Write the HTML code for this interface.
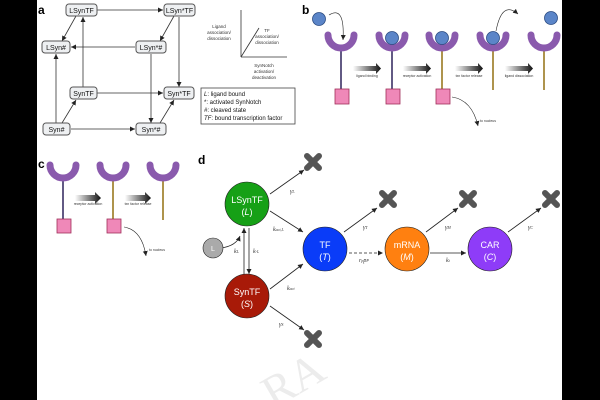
<!DOCTYPE html>
<html><head><style>
body{margin:0;width:600px;height:400px;overflow:hidden;background:#000}
svg{display:block;font-family:"Liberation Sans",sans-serif}
</style></head><body>
<svg width="600" height="400" viewBox="0 0 600 400">
<defs>
<marker id="ar" markerWidth="6" markerHeight="6" refX="5" refY="3" orient="auto" markerUnits="userSpaceOnUse"><path d="M0,0.5 L5,3 L0,5.5z" fill="#222"/></marker>
<linearGradient id="bg" x1="0" x2="1"><stop offset="0" stop-color="#fff"/><stop offset="1" stop-color="#111"/></linearGradient>
<g id="xm"><path d="M-6,-6 L6,6 M6,-6 L-6,6" stroke="#555" stroke-width="6" stroke-linecap="round"/></g>
<g id="cup"><path d="M-13,-3 A13,13 0 0 0 13,-3" fill="none" stroke="#8a5aad" stroke-width="7" stroke-linecap="round"/></g>
</defs>
<rect x="37" y="0" width="525" height="400" fill="#fff"/>
<!-- watermark -->
<text x="262" y="392" font-size="46" fill="#ececec" font-family="Liberation Serif" transform="rotate(-30 300 380)">RA</text>

<!-- Panel a -->
<text x="38" y="14" font-size="12" font-weight="bold">a</text>
<g stroke="#333" stroke-width="0.8" fill="none" marker-end="url(#ar)">
<line x1="97" y1="10" x2="163" y2="10"/>
<line x1="76" y1="16" x2="62" y2="41"/>
<line x1="83" y1="87" x2="83" y2="17"/>
<line x1="174" y1="16" x2="160" y2="41"/>
<line x1="179" y1="17" x2="179" y2="87"/>
<line x1="135" y1="47" x2="71" y2="47"/>
<line x1="56" y1="123" x2="56" y2="54"/>
<line x1="151" y1="54" x2="151" y2="123"/>
<line x1="97" y1="93" x2="163" y2="93"/>
<line x1="62" y1="123" x2="76" y2="100"/>
<line x1="160" y1="123" x2="174" y2="100"/>
<line x1="71" y1="129" x2="135" y2="129"/>
</g>
<g fill="#eef0f2" stroke="#555" stroke-width="1">
<rect x="66" y="4" width="31" height="12" rx="3"/><rect x="164" y="4" width="31" height="12" rx="3"/>
<rect x="42" y="41" width="28" height="12" rx="3"/><rect x="136" y="41" width="30" height="12" rx="3"/>
<rect x="70" y="87" width="27" height="12" rx="3"/><rect x="164" y="87" width="30" height="12" rx="3"/>
<rect x="43" y="123" width="27" height="12" rx="3"/><rect x="136" y="123" width="30" height="12" rx="3"/>
</g>
<g font-size="7" text-anchor="middle" fill="#111">
<text x="81.5" y="13">LSynTF</text><text x="179.5" y="13">LSyn*TF</text>
<text x="56" y="50">LSyn#</text><text x="151" y="50">LSyn*#</text>
<text x="83.5" y="96">SynTF</text><text x="179" y="96">Syn*TF</text>
<text x="56.5" y="132">Syn#</text><text x="151" y="132">Syn*#</text>
</g>
<g stroke="#333" stroke-width="0.8"><line x1="241" y1="10" x2="241" y2="57"/><line x1="241" y1="57" x2="287" y2="57"/><line x1="241" y1="57" x2="259" y2="28"/></g>
<g font-size="4.5" text-anchor="middle" fill="#333">
<text x="219" y="28">Ligand</text><text x="219" y="34">association/</text><text x="219" y="40">dissociation</text>
<text x="267" y="32">TF</text><text x="267" y="38">association/</text><text x="267" y="44">dissociation</text>
<text x="264" y="67">SynNotch</text><text x="264" y="73">activation/</text><text x="264" y="79">deactivation</text>
</g>
<rect x="201" y="88" width="94" height="36" fill="#fff" stroke="#444" stroke-width="0.8"/>
<g font-size="6" fill="#111"><text x="204" y="96"><tspan font-style="italic">L</tspan>: ligand bound</text><text x="204" y="104">*: activated SynNotch</text><text x="204" y="112"><tspan font-style="italic">#</tspan>: cleaved state</text><text x="204" y="120"><tspan font-style="italic">TF</tspan>: bound transcription factor</text></g>

<!-- Panel b -->
<text x="302" y="14" font-size="12" font-weight="bold">b</text>
<g>
<line x1="341" y1="50" x2="341" y2="90" stroke="#3a3066" stroke-width="1.6"/><use href="#cup" x="341" y="38"/><rect x="335" y="89" width="14" height="15" fill="#ef88b8" stroke="#a0305a" stroke-width="0.8"/>
<line x1="392" y1="50" x2="392" y2="90" stroke="#3a3066" stroke-width="1.6"/><use href="#cup" x="392" y="38"/><rect x="386" y="89" width="14" height="15" fill="#ef88b8" stroke="#a0305a" stroke-width="0.8"/>
<line x1="442" y1="50" x2="442" y2="90" stroke="#9a7a20" stroke-width="1.6"/><use href="#cup" x="442" y="38"/><rect x="436" y="89" width="14" height="15" fill="#ef88b8" stroke="#a0305a" stroke-width="0.8"/>
<line x1="493" y1="50" x2="493" y2="90" stroke="#9a7a20" stroke-width="1.6"/><use href="#cup" x="493" y="38"/>
<line x1="544" y1="50" x2="544" y2="90" stroke="#9a7a20" stroke-width="1.6"/><use href="#cup" x="544" y="38"/>
<g fill="#5b85c8" stroke="#2a4a80" stroke-width="0.8"><circle cx="319" cy="19" r="6.5"/><circle cx="392" cy="38" r="6.5"/><circle cx="442" cy="38" r="6.5"/><circle cx="493" cy="38" r="6.5"/><circle cx="551" cy="18" r="6.5"/></g>
<g fill="none" stroke="#222" stroke-width="0.6" marker-end="url(#ar)"><path d="M329,15 Q345,5 343,40"/><path d="M496,31 Q502,0 518,14"/><path d="M452,97 Q472,100 478,126"/></g>
<g fill="url(#bg)"><path d="M353,66 H376 V63 L381,68.5 L376,74 V71 H353z"/><path d="M403,66 H426 V63 L431,68.5 L426,74 V71 H403z"/><path d="M455,66 H478 V63 L483,68.5 L478,74 V71 H455z"/><path d="M505,66 H528 V63 L533,68.5 L528,74 V71 H505z"/></g>
<g font-size="3.5" text-anchor="middle" fill="#333"><text x="367" y="77">ligand binding</text><text x="417" y="77">receptor activation</text><text x="469" y="77">txn factor release</text><text x="519" y="77">ligand dissociation</text><text x="488" y="122">to nucleus</text></g>
</g>

<!-- Panel c -->
<text x="38" y="168" font-size="12" font-weight="bold">c</text>
<line x1="63" y1="180" x2="63" y2="220" stroke="#3a3066" stroke-width="1.6"/><use href="#cup" x="63" y="168"/><rect x="57" y="219" width="14" height="14" fill="#ef88b8" stroke="#a0305a" stroke-width="0.8"/>
<line x1="113" y1="180" x2="113" y2="220" stroke="#9a7a20" stroke-width="1.6"/><use href="#cup" x="113" y="168"/><rect x="107" y="219" width="14" height="14" fill="#ef88b8" stroke="#a0305a" stroke-width="0.8"/>
<line x1="163" y1="180" x2="163" y2="220" stroke="#9a7a20" stroke-width="1.6"/><use href="#cup" x="163" y="168"/>
<g fill="url(#bg)"><path d="M75,195 H95 V192 L101,198 L95,204 V201 H75z"/><path d="M125,195 H145 V192 L151,198 L145,204 V201 H125z"/></g>
<g font-size="3.5" text-anchor="middle" fill="#333"><text x="88" y="205">receptor activation</text><text x="138" y="205">txn factor release</text><text x="157" y="251">to nucleus</text></g>
<path d="M124,227 Q142,230 146,256" fill="none" stroke="#222" stroke-width="0.6" marker-end="url(#ar)"/>

<!-- Panel d -->
<text x="198" y="164" font-size="12" font-weight="bold">d</text>
<g stroke="#222" stroke-width="0.8" fill="none" marker-end="url(#ar)">
<line x1="270" y1="194" x2="304" y2="170"/>
<line x1="270" y1="211" x2="303" y2="232"/>
<line x1="270" y1="289" x2="303" y2="264"/>
<line x1="270" y1="306" x2="304" y2="330"/>
<line x1="344" y1="232" x2="377" y2="208"/>
<line x1="426" y1="232" x2="458" y2="208"/>
<line x1="508" y1="232" x2="541" y2="208"/>
<line x1="430" y1="253" x2="466" y2="253"/>
<line x1="244" y1="274" x2="244" y2="228"/>
<line x1="249" y1="228" x2="249" y2="274"/>
<path d="M221,248 Q236,246 240,236" />
<line x1="349" y1="253" x2="383" y2="253" stroke-dasharray="3,2"/>
</g>
<g><use href="#xm" x="313" y="162"/><use href="#xm" x="388" y="199"/><use href="#xm" x="468" y="199"/><use href="#xm" x="551" y="199"/><use href="#xm" x="313" y="339"/></g>
<g stroke="#222" stroke-width="0.6">
<circle cx="247" cy="204" r="22" fill="#16a016"/>
<circle cx="247" cy="296" r="22" fill="#a81a08"/>
<circle cx="213" cy="248" r="10" fill="#aaa"/>
<circle cx="325" cy="249" r="22" fill="#0a3cf8"/>
<circle cx="407" cy="249" r="22" fill="#ff8010"/>
<circle cx="490" cy="249" r="22" fill="#8e3cf8"/>
</g>
<g fill="#fff" font-size="9" text-anchor="middle">
<text x="247" y="203">LSynTF</text><text x="247" y="215">(<tspan font-style="italic">L</tspan>)</text>
<text x="247" y="295">SynTF</text><text x="247" y="307">(<tspan font-style="italic">S</tspan>)</text>
<text x="213" y="251" font-size="7">L</text>
<text x="325" y="248">TF</text><text x="325" y="260">(<tspan font-style="italic">T</tspan>)</text>
<text x="407" y="248">mRNA</text><text x="407" y="260">(<tspan font-style="italic">M</tspan>)</text>
<text x="490" y="248">CAR</text><text x="490" y="260">(<tspan font-style="italic">C</tspan>)</text>
</g>
<g font-size="6" font-style="italic" fill="#333" font-family="Liberation Serif">
<text x="290" y="193">γ<tspan font-size="4">L</tspan></text>
<text x="273" y="231">k<tspan font-size="4">act,L</tspan></text>
<text x="234" y="253">k<tspan font-size="4">L</tspan></text>
<text x="253" y="253">k<tspan font-size="4">-L</tspan></text>
<text x="287" y="290">k<tspan font-size="4">act</tspan></text>
<text x="279" y="326">γ<tspan font-size="4">S</tspan></text>
<text x="363" y="229">γ<tspan font-size="4">T</tspan></text>
<text x="359" y="262">r<tspan font-size="4">p</tspan>p<tspan font-size="4">P</tspan></text>
<text x="445" y="229">γ<tspan font-size="4">M</tspan></text>
<text x="446" y="262">k<tspan font-size="4">t</tspan></text>
<text x="528" y="229">γ<tspan font-size="4">C</tspan></text>
</g>
</svg>
</body></html>
